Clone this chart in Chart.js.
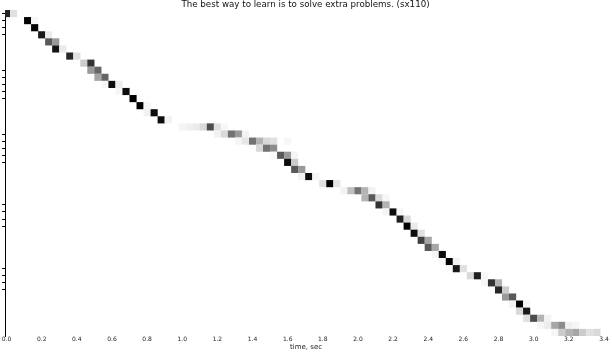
<!DOCTYPE html>
<html lang="en">
<head>
    <meta charset="UTF-8">
    <title>sx110 state alignment</title>
    <script src="https://cdn.jsdelivr.net/npm/chart.js"></script>
    <style>
        html, body { margin: 0; padding: 0; background: #fff; }
        .chart-box { position: relative; width: 612px; height: 352px; }
    </style>
</head>
<body>
    <div class="chart-box"><canvas id="align-chart"></canvas></div>

    <script>
        const titleText = "The best way to learn is to solve extra problems. (sx110)";
        const frameSec = 0.04;

        // frames (columns) lit for each state row, top row first
        const stateFrames = [
            [0, 1], [3, 4], [4], [5, 6], [6, 7], [7, 8], [9, 10], [11, 12], [12, 13], [13, 14],
            [14, 15, 16], [16, 17], [18], [19, 20], [20, 21], [22, 23],
            [25, 26, 27, 28, 29, 30, 31], [30, 31, 32, 33, 34], [33, 34, 35, 36, 37, 38, 40], [36, 37, 38],
            [38, 39, 40, 41], [40, 41], [41, 42], [42, 43, 44], [45, 46, 47], [48, 49, 50, 51, 52],
            [51, 52, 53, 54], [53, 54], [54, 55, 56], [56, 57],
            [57, 58], [58, 59], [59, 60], [60, 61], [61, 62], [62, 63, 64], [63, 64, 65], [66, 67, 68],
            [68, 69, 70], [70, 71],
            [71, 72], [72, 73, 74], [73, 74], [74, 75, 76, 77], [76, 77, 78, 79, 80, 81],
            [78, 79, 80, 81, 82, 83, 84]
        ];

        // darkness of each lit cell (1 = black)
        const stateLevels = [
            [0.85, 0.12], [1.0, 0.03], [1.0], [0.9, 0.08], [0.65, 0.4], [0.92, 0.08], [0.85, 0.12], [0.2, 0.8], [0.4, 0.6], [0.35, 0.6],
            [0.03, 0.95, 0.07], [0.03, 0.95], [1.0], [1.0, 0.03], [0.05, 0.95], [0.95, 0.05],
            [0.04, 0.06, 0.08, 0.15, 0.7, 0.12, 0.03], [0.05, 0.15, 0.55, 0.4, 0.05], [0.04, 0.1, 0.55, 0.3, 0.15, 0.12, 0.03], [0.15, 0.55, 0.45],
            [0.02, 0.65, 0.4, 0.04], [0.95, 0.2], [0.65, 0.4], [0.05, 0.95, 0.04], [0.12, 1.0, 0.1], [0.05, 0.25, 0.55, 0.3, 0.05],
            [0.3, 0.65, 0.15, 0.03], [0.8, 0.3], [0.04, 0.95, 0.04], [0.88, 0.15],
            [1.0, 0.08], [0.95, 0.12], [0.75, 0.35], [0.65, 0.35], [0.04, 0.95], [0.03, 1.0, 0.05], [0.02, 0.9, 0.12], [0.15, 0.88, 0.03],
            [0.03, 0.8, 0.3], [0.85, 0.2],
            [0.4, 0.65], [0.05, 1.0, 0.04], [0.15, 0.9], [0.12, 0.7, 0.3, 0.05], [0.04, 0.08, 0.35, 0.45, 0.06, 0.04],
            [0.03, 0.2, 0.3, 0.35, 0.2, 0.12, 0.15]
        ];

        const timeTicks = [0.0, 0.2, 0.4, 0.6, 0.8, 1.0, 1.2, 1.4, 1.6, 1.8, 2.0, 2.2, 2.4, 2.6, 2.8, 3.0, 3.2, 3.4];
        const stateTicks = [0, 1, 2, 3, 8, 9, 10, 11, 12, 17, 18, 19, 20, 21, 27, 28, 29, 30, 36, 37, 38, 39];

        const points = [];
        const shades = [];
        stateFrames.forEach((frames, row) => {
            frames.forEach((f, i) => {
                points.push({ x: f * frameSec, y: row });
                const g = Math.round(255 * (1 - stateLevels[row][i]));
                shades.push(`rgb(${g},${g},${g})`);
            });
        });

        const font = "'DejaVu Sans', sans-serif";

        new Chart(document.getElementById("align-chart"), {
            type: "scatter",
            data: {
                datasets: [{
                    data: points,
                    pointStyle: "rect",
                    pointRadius: 5.05,
                    pointHoverRadius: 5.05,
                    pointBorderWidth: 0,
                    pointBackgroundColor: shades,
                    borderWidth: 0
                }]
            },
            options: {
                responsive: true,
                maintainAspectRatio: false,
                animation: false,
                events: [],
                layout: { padding: { left: 0, right: 1, top: 0, bottom: 0 } },
                plugins: {
                    legend: { display: false },
                    tooltip: { enabled: false },
                    title: {
                        display: true,
                        text: titleText,
                        color: "#111",
                        font: { family: font, size: 8.7, weight: "normal", lineHeight: "10px" },
                        padding: { top: 0, bottom: 0 }
                    }
                },
                scales: {
                    x: {
                        type: "linear",
                        min: -0.0085,
                        max: 3.417,
                        afterBuildTicks: s => { s.ticks = timeTicks.map(v => ({ value: v })); },
                        afterFit: s => { s.height = 16; s.paddingLeft = 0; s.paddingRight = 0; },
                        grid: { display: false, drawTicks: false },
                        border: { display: false },
                        ticks: {
                            autoSkip: false,
                            maxRotation: 0,
                            padding: 0,
                            color: "#222",
                            font: { family: font, size: 6 },
                            callback: v => v.toFixed(1)
                        },
                        title: {
                            display: true,
                            text: "time, sec",
                            color: "#222",
                            font: { family: font, size: 7 },
                            padding: { top: 0, bottom: 1 }
                        }
                    },
                    y: {
                        type: "linear",
                        reverse: true,
                        min: -0.5,
                        max: 45.5,
                        afterBuildTicks: s => { s.ticks = stateTicks.map(v => ({ value: v })); },
                        afterFit: s => { s.width = 3; },
                        grid: { drawOnChartArea: false, drawTicks: true, tickLength: 3, color: "#000", lineWidth: 1 },
                        border: { display: true, color: "#000", width: 1 },
                        ticks: { display: false }
                    }
                }
            }
        });
    </script>
</body>
</html>
